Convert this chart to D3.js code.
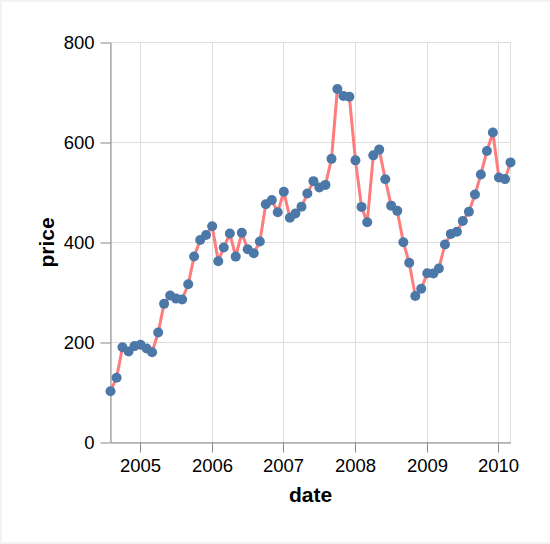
<!DOCTYPE html>
<html>
<head>
<meta charset="utf-8">
<script src="https://cdn.jsdelivr.net/npm/d3@7"></script>
<style>
  body { margin: 0; background: #fff; }
  svg { display: block; font-family: Helvetica, Arial, 'Liberation Sans', sans-serif; }
</style>
</head>
<body>
<div class="chart"></div>
<script>
// GOOG monthly close, Aug 2004 .. Mar 2010
const dates = [
  '2004-08', '2004-09', '2004-10', '2004-11', '2004-12',
  '2005-01', '2005-02', '2005-03', '2005-04', '2005-05', '2005-06', '2005-07', '2005-08', '2005-09', '2005-10', '2005-11', '2005-12',
  '2006-01', '2006-02', '2006-03', '2006-04', '2006-05', '2006-06', '2006-07', '2006-08', '2006-09', '2006-10', '2006-11', '2006-12',
  '2007-01', '2007-02', '2007-03', '2007-04', '2007-05', '2007-06', '2007-07', '2007-08', '2007-09', '2007-10', '2007-11', '2007-12',
  '2008-01', '2008-02', '2008-03', '2008-04', '2008-05', '2008-06', '2008-07', '2008-08', '2008-09', '2008-10', '2008-11', '2008-12',
  '2009-01', '2009-02', '2009-03', '2009-04', '2009-05', '2009-06', '2009-07', '2009-08', '2009-09', '2009-10', '2009-11', '2009-12',
  '2010-01', '2010-02', '2010-03'
]
const prices = [
  102.37, 129.6, 190.64, 181.98, 192.79,
  195.62, 187.99, 180.51, 220, 277.27, 294.15, 287.76, 286, 316.46, 372.14, 404.91, 414.86,
  432.66, 362.62, 390, 417.94, 371.82, 419.33, 386.6, 378.53, 401.9, 476.39, 484.81, 460.48,
  501.5, 449.45, 458.16, 471.38, 497.91, 522.7, 510, 515.25, 567.27, 707, 693, 691.48,
  564.3, 471.18, 440.47, 574.29, 585.8, 526.42, 473.75, 463.29, 400.52, 359.36, 292.96, 307.65,
  338.53, 337.99, 348.06, 395.97, 417.23, 421.59, 443.05, 461.67, 495.85, 536.12, 583, 619.98,
  529.94, 526.8, 560.19
]
const yTicks = [0, 200, 400, 600, 800]
const xTickYears = [2005, 2006, 2007, 2008, 2009, 2010]

const W = 550
const H = 544
const margin = {top: 42.5, right: 39.5, bottom: 101.5, left: 110.5}
const width = 400
const height = 400

const parse = d3.timeParse('%Y-%m')
const data = dates.map((d, i) => ({ date: parse(d), price: prices[i] }))

const svg = d3.select('.chart').append('svg')
  .attr('width', W)
  .attr('height', H)

// faint frame around the picture
svg.append('rect').attr('x', 0).attr('y', 0).attr('width', W).attr('height', 2).attr('fill', '#f3f3f3')
svg.append('rect').attr('x', 0).attr('y', H - 2).attr('width', W).attr('height', 2).attr('fill', '#f3f3f3')
svg.append('rect').attr('x', 0).attr('y', 0).attr('width', 2).attr('height', H).attr('fill', '#f3f3f3')

const g = svg.append('g')
  .attr('transform', `translate(${margin.left},${margin.top})`)

const x = d3.scaleTime()
  .domain(d3.extent(data, d => d.date))
  .range([0, width])

const y = d3.scaleLinear()
  .domain([0, 800])
  .range([height, 0])

const xTicks = xTickYears.map(yr => new Date(yr, 0, 1))

// grid
const grid = g.append('g').attr('class', 'grid')
grid.selectAll('line.gx').data(xTicks).enter().append('line')
  .attr('class', 'gx')
  .attr('x1', d => Math.round(x(d)))
  .attr('x2', d => Math.round(x(d)))
  .attr('y1', 0).attr('y2', height)
  .attr('stroke', '#ddd')
grid.selectAll('line.gy').data(yTicks).enter().append('line')
  .attr('class', 'gy')
  .attr('x1', 0).attr('x2', width)
  .attr('y1', d => y(d)).attr('y2', d => y(d))
  .attr('stroke', '#ddd')
g.append('rect')
  .attr('width', width).attr('height', height)
  .attr('fill', 'none').attr('stroke', '#ddd')

// axes
const axisBottom = d3.axisBottom(x)
  .tickValues(xTicks)
  .tickFormat(d3.timeFormat('%Y'))
  .tickSize(10).tickPadding(6).tickSizeOuter(0)
const axisLeft = d3.axisLeft(y)
  .tickValues(yTicks)
  .tickSize(10).tickPadding(6).tickSizeOuter(0)

const gx = g.append('g')
  .attr('transform', `translate(0,${height})`)
  .call(axisBottom)
gx.selectAll('.tick').attr('transform', d => `translate(${Math.round(x(d))},0)`)
const gy = g.append('g').call(axisLeft)

;[gx, gy].forEach(a => {
  a.select('.domain').attr('stroke', '#888')
  a.selectAll('.tick line').attr('stroke', '#888')
  a.selectAll('.tick text')
    .attr('fill', '#000')
    .style('font-size', '18.5px')
    .style('font-family', 'Helvetica, Arial, "Liberation Sans", sans-serif')
})

// line + points
const line = d3.line()
  .x(d => x(d.date))
  .y(d => y(d.price))

g.append('path')
  .datum(data)
  .attr('d', line)
  .attr('fill', 'none')
  .attr('stroke', '#ff7c7c')
  .attr('stroke-width', 3)
  .attr('stroke-linejoin', 'round')

g.selectAll('circle.item').data(data).enter().append('circle')
  .attr('class', 'item')
  .attr('cx', d => x(d.date))
  .attr('cy', d => y(d.price))
  .attr('r', 5)
  .attr('fill', '#4c78a8')

// axis titles
g.append('text')
  .attr('x', width / 2)
  .attr('y', height + 59)
  .attr('text-anchor', 'middle')
  .style('font-size', '21px')
  .style('font-weight', 'bold')
  .text('date')

g.append('text')
  .attr('transform', `translate(${-57},${height / 2}) rotate(-90)`)
  .attr('text-anchor', 'middle')
  .style('font-size', '21px')
  .style('font-weight', 'bold')
  .text('price')
</script>
</body>
</html>
